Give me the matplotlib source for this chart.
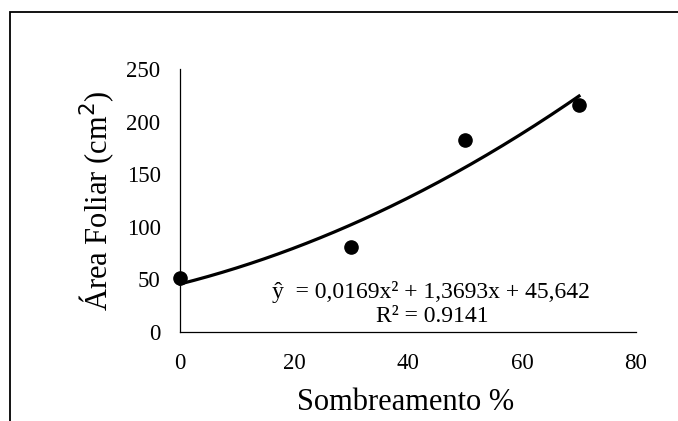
import numpy as np
import matplotlib
matplotlib.use("Agg")
import matplotlib.pyplot as plt
from matplotlib.patches import Rectangle

# Data
shade = [0, 30, 50, 70]
area = [51, 80.5, 182.5, 215.5]
coef = [0.0169, 1.3693, 45.642]  # a, b, c of fitted trendline
xticks = [0, 20, 40, 60, 80]
yticks = [0, 50, 100, 150, 200, 250]

plt.rcParams['font.family'] = ['Liberation Serif', 'DejaVu Serif']

W, H = 678, 421
fig = plt.figure(figsize=(W / 100, H / 100), dpi=100)
ax = fig.add_axes([180 / W, 1 - 332 / H, (636 - 180) / W, (332 - 69) / H])

xs = np.linspace(0, 70, 200)
ys = coef[0] * xs ** 2 + coef[1] * xs + coef[2]
ax.plot(xs, ys, color='black', lw=2.3, zorder=2, clip_on=False)
ax.plot(shade, area, 'o', color='black', ms=9.5, zorder=3, clip_on=False)

ax.set_xlim(0, 80)
ax.set_ylim(0, 250)
ax.set_xticks(xticks)
ax.set_yticks(yticks)
ax.tick_params(length=0, labelsize=16.5)
ax.tick_params(axis='x', pad=15)
ax.tick_params(axis='y', pad=14)
for s in ['top', 'right']:
    ax.spines[s].set_visible(False)
for s in ['left', 'bottom']:
    ax.spines[s].set_linewidth(0.9)

ax.set_xlabel('Sombreamento %', fontsize=22)
ax.xaxis.set_label_coords(0.495, -(402 - 332) / 263)
ax.xaxis.label.set_va('center')
ax.set_ylabel('Área Foliar (cm$^2$)', fontsize=22)
ax.yaxis.set_label_coords(-(180 - 97) / (636 - 180), 0.5)
ax.yaxis.label.set_va('center')

ax.text(0.55, (332 - 292) / 263, 'ŷ  = 0,0169x² + 1,3693x + 45,642', transform=ax.transAxes,
        ha='center', va='center', fontsize=17)
ax.text(0.553, (332 - 317) / 263, 'R² = 0.9141', transform=ax.transAxes,
        ha='center', va='center', fontsize=17)

fig.patches.append(Rectangle((10 / W, -0.1), 1.2, 1 - 12 / H + 0.1, transform=fig.transFigure,
                             fill=False, edgecolor='black', lw=1.3))

fig.savefig('out.png', dpi=100)
